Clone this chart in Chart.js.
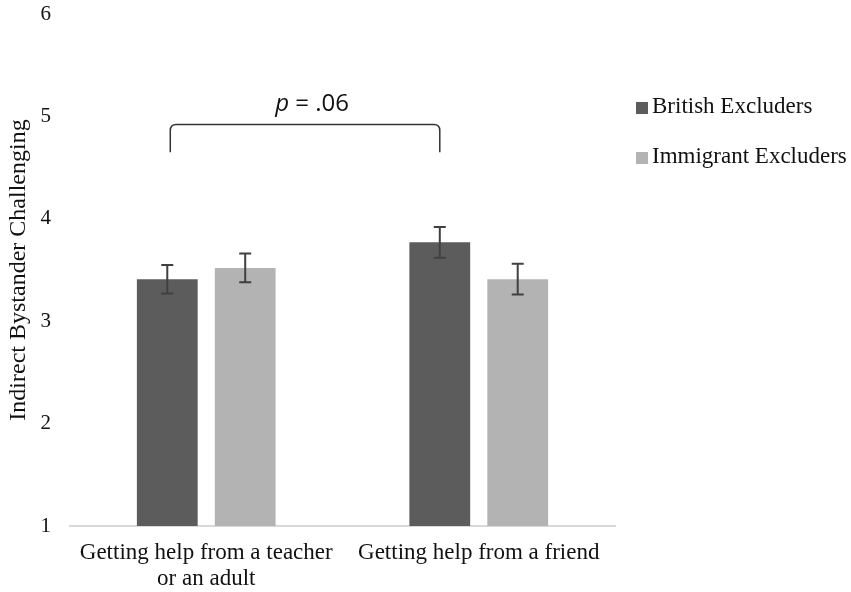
<!DOCTYPE html>
<html>
<head>
<meta charset="utf-8">
<script src="https://cdn.jsdelivr.net/npm/chart.js@4/dist/chart.umd.min.js"></script>
<style>
  body { margin: 0; background: #fff; }
  #wrap { width: 851px; height: 592px; }
</style>
</head>
<body>
<div id="wrap"><canvas id="chart" width="851" height="592"></canvas></div>
<script>
// categories (first one wraps onto two lines like the original)
const categories = [["Getting help from a teacher", "or an adult"], "Getting help from a friend"];
const seriesNames = ["British Excluders", "Immigrant Excluders"];

// means + standard errors
const britishMeans = [3.41, 3.77];
const britishErr = [0.14, 0.15];
const immigrantMeans = [3.52, 3.41];
const immigrantErr = [0.14, 0.15];

const yTicks = [1, 2, 3, 4, 5, 6];
const pLabel = "= .06";

const serif = "'Liberation Serif', 'DejaVu Serif', serif";
const sans = "'Open Sans', 'Liberation Sans', sans-serif";

// error bars drawn from each dataset's err array
const errorBars = {
  id: 'errorBars',
  afterDatasetsDraw(chart) {
    const ctx = chart.ctx;
    const y = chart.scales.y;
    chart.data.datasets.forEach((ds, i) => {
      const meta = chart.getDatasetMeta(i);
      meta.data.forEach((bar, j) => {
        const v = ds.data[j], e = ds.err[j];
        const top = y.getPixelForValue(v + e);
        const bot = y.getPixelForValue(v - e);
        ctx.save();
        ctx.strokeStyle = '#404040';
        ctx.lineWidth = 2;
        ctx.beginPath();
        ctx.moveTo(bar.x, top); ctx.lineTo(bar.x, bot);
        ctx.moveTo(bar.x - 6, top); ctx.lineTo(bar.x + 6, top);
        ctx.moveTo(bar.x - 6, bot); ctx.lineTo(bar.x + 6, bot);
        ctx.stroke();
        ctx.restore();
      });
    });
  }
};

// bracket between the two British bars with the p value
const bracket = {
  id: 'bracket',
  afterDraw(chart) {
    const ctx = chart.ctx;
    const y = chart.scales.y;
    const meta = chart.getDatasetMeta(0);
    const x1 = meta.data[0].x + 3, x2 = meta.data[1].x;
    const yTop = y.getPixelForValue(4.92);
    const yBot = y.getPixelForValue(4.65);
    ctx.save();
    ctx.strokeStyle = '#333';
    ctx.lineWidth = 1.5;
    ctx.beginPath();
    ctx.moveTo(x1, yBot);
    ctx.lineTo(x1, yTop + 6);
    ctx.quadraticCurveTo(x1, yTop, x1 + 6, yTop);
    ctx.lineTo(x2 - 6, yTop);
    ctx.quadraticCurveTo(x2, yTop, x2, yTop + 6);
    ctx.lineTo(x2, yBot);
    ctx.stroke();

    const cx = (x1 + x2) / 2 + 7;
    const ty = yTop - 20;
    ctx.fillStyle = '#111';
    ctx.textBaseline = 'middle';
    ctx.font = "italic 24px " + sans;
    const pW = ctx.measureText('p').width;
    ctx.font = "24px " + sans;
    const restW = ctx.measureText(' ' + pLabel).width;
    const start = cx - (pW + restW) / 2;
    ctx.textAlign = 'left';
    ctx.font = "italic 24px " + sans;
    ctx.fillText('p', start, ty);
    ctx.font = "24px " + sans;
    ctx.fillText(' ' + pLabel, start + pW, ty);
    ctx.restore();
  }
};

// legend on the right, in the blank strip beside the plot
const sideLegend = {
  id: 'sideLegend',
  afterDraw(chart) {
    const ctx = chart.ctx;
    const left = chart.chartArea.right + 21;
    const rows = [107, 157];
    ctx.save();
    ctx.font = "23px " + serif;
    ctx.textBaseline = 'middle';
    ctx.textAlign = 'left';
    chart.data.datasets.forEach((ds, i) => {
      ctx.fillStyle = ds.backgroundColor;
      ctx.fillRect(left, rows[i] - 5, 12, 12);
      ctx.fillStyle = '#111';
      ctx.fillText(ds.label, left + 16, rows[i]);
    });
    ctx.restore();
  }
};

new Chart(document.getElementById('chart'), {
  type: 'bar',
  data: {
    labels: categories,
    datasets: [
      { label: seriesNames[0], data: britishMeans, err: britishErr, backgroundColor: '#5c5c5c' },
      { label: seriesNames[1], data: immigrantMeans, err: immigrantErr, backgroundColor: '#b3b3b3' }
    ]
  },
  options: {
    responsive: false,
    animation: false,
    categoryPercentage: 0.572,
    barPercentage: 0.78,
    layout: { padding: { top: 14, left: 0, right: 236, bottom: 4 } },
    plugins: {
      tooltip: { enabled: false },
      legend: { display: false }
    },
    scales: {
      x: {
        afterFit(axis) { axis.height = 62; },
        grid: { display: false },
        border: { color: '#d9d9d9', width: 2 },
        ticks: { color: '#111', font: { family: serif, size: 23, lineHeight: 1.13 }, padding: 6, maxRotation: 0 }
      },
      y: {
        min: 1, max: 6,
        afterBuildTicks(axis) { axis.ticks = yTicks.map(v => ({ value: v })); },
        afterFit(axis) { axis.width = 70; axis.paddingTop = 0; axis.paddingBottom = 0; },
        grid: { display: false },
        border: { display: false },
        ticks: { color: '#111', font: { family: serif, size: 21 }, padding: 11 },
        title: { display: true, text: 'Indirect Bystander Challenging', color: '#111', font: { family: serif, size: 24 }, padding: 4 }
      }
    }
  },
  plugins: [errorBars, bracket, sideLegend]
});
</script>
</body>
</html>
